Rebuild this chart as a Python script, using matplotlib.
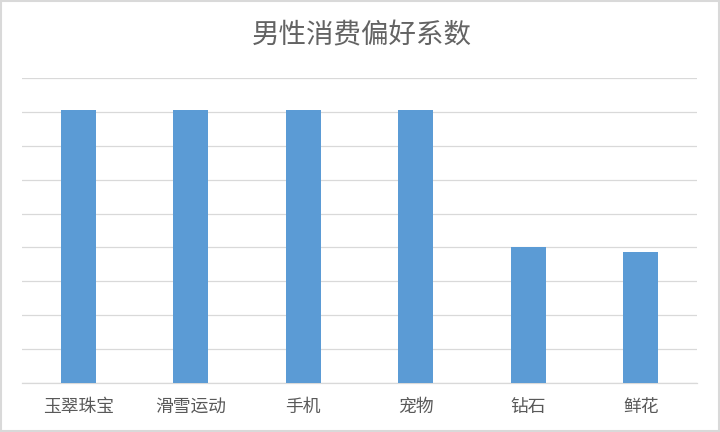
import matplotlib.pyplot as plt
from matplotlib.patches import Rectangle

plt.rcParams['font.family'] = ['Noto Sans CJK SC', 'DejaVu Sans']

categories = ['玉翠珠宝', '滑雪运动', '手机', '宠物', '钻石', '鲜花']
values = [8.05, 8.05, 8.05, 8.05, 4.0, 3.85]

fig = plt.figure(figsize=(7.2, 4.32), dpi=100)
ax = fig.add_axes([0.0306, 0.114, 0.9374, 0.705])

ax.bar(range(len(categories)), values, width=0.31, color='#5b9bd5', zorder=3)

ax.set_xlim(-0.5, len(categories) - 0.5)
ax.set_ylim(0, 9)
ax.set_yticks(range(0, 10))
ax.set_yticklabels([])
ax.set_xticks(range(len(categories)))
ax.set_xticklabels(categories, fontsize=12.8, color='#595959')
ax.tick_params(axis='both', length=0, pad=11)
ax.grid(axis='y', color='#d9d9d9', linewidth=0.9, zorder=0)
for s in ['top', 'left', 'right']:
    ax.spines[s].set_visible(False)
ax.spines['bottom'].set_color('#d9d9d9')
ax.spines['bottom'].set_linewidth(0.9)

fig.text(0.503, 0.918, '男性消费偏好系数', ha='center', va='center',
         fontsize=19.8, color='#636363')

fig.patches.append(Rectangle((0.002, 0.003), 0.996, 0.994, transform=fig.transFigure,
                             fill=False, edgecolor='#d9d9d9', linewidth=1.5))

fig.savefig('out.png', dpi=100)
